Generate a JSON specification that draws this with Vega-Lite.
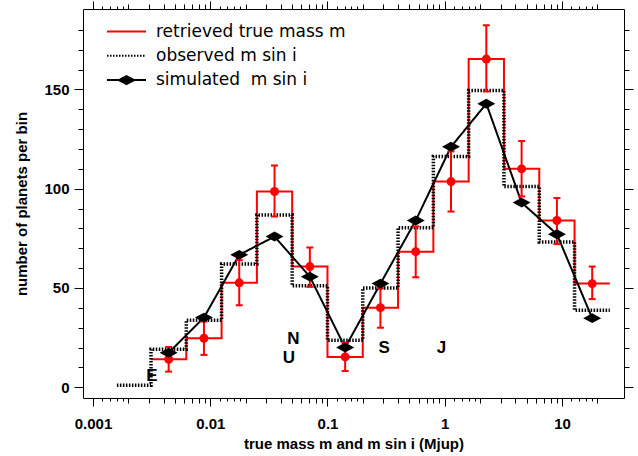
{
  "$schema": "https://vega.github.io/schema/vega-lite/v6.json",
  "width": 541,
  "height": 389,
  "autosize": {"type": "none"},
  "padding": {"left": 83, "top": 9, "right": 14, "bottom": 58},
  "background": "white",
  "config": {
    "view": {"stroke": "black", "strokeWidth": 1},
    "axis": {
      "domain": false, "grid": false, "tickColor": "black", "tickWidth": 1,
      "labelFont": "Liberation Sans", "labelFontWeight": "bold", "labelFontSize": 15, "labelColor": "black",
      "titleFont": "Liberation Sans", "titleFontWeight": "bold", "titleFontSize": 15, "titleColor": "black",
      "labelFlush": false, "labelOverlap": false
    },
    "legend": {
      "orient": "none", "legendX": 35, "legendY": 14, "padding": 0,
      "labelFont": "DejaVu Sans", "labelFontSize": 17, "labelColor": "black", "labelLimit": 400,
      "symbolSize": 100, "symbolStrokeWidth": 2, "symbolOpacity": 1,
      "rowPadding": 6.3, "labelOffset": 21, "symbolOffset": 0
    }
  },
  "datasets": {
    "red_steps": [
      {"series": "retrieved true mass m", "edge": 0.003125, "count": 14.1},
      {"series": "retrieved true mass m", "edge": 0.00625, "count": 24.7},
      {"series": "retrieved true mass m", "edge": 0.0125, "count": 52.6},
      {"series": "retrieved true mass m", "edge": 0.025, "count": 98.6},
      {"series": "retrieved true mass m", "edge": 0.05, "count": 60.8},
      {"series": "retrieved true mass m", "edge": 0.1, "count": 15.3},
      {"series": "retrieved true mass m", "edge": 0.2, "count": 40.1},
      {"series": "retrieved true mass m", "edge": 0.4, "count": 68.3},
      {"series": "retrieved true mass m", "edge": 0.8, "count": 103.6},
      {"series": "retrieved true mass m", "edge": 1.6, "count": 165.3},
      {"series": "retrieved true mass m", "edge": 3.2, "count": 110.0},
      {"series": "retrieved true mass m", "edge": 6.4, "count": 84.0},
      {"series": "retrieved true mass m", "edge": 12.8, "count": 52.2},
      {"series": "retrieved true mass m", "edge": 25.6, "count": 52.2}
    ],
    "obs_steps": [
      {"series": "observed m sin i", "edge": 0.0016, "count": 1},
      {"series": "observed m sin i", "edge": 0.003125, "count": 19.2},
      {"series": "observed m sin i", "edge": 0.00625, "count": 33.8},
      {"series": "observed m sin i", "edge": 0.0125, "count": 62.1},
      {"series": "observed m sin i", "edge": 0.025, "count": 86.8},
      {"series": "observed m sin i", "edge": 0.05, "count": 51.1},
      {"series": "observed m sin i", "edge": 0.1, "count": 23.7},
      {"series": "observed m sin i", "edge": 0.2, "count": 50.0},
      {"series": "observed m sin i", "edge": 0.4, "count": 80.4},
      {"series": "observed m sin i", "edge": 0.8, "count": 116.2},
      {"series": "observed m sin i", "edge": 1.6, "count": 149.5},
      {"series": "observed m sin i", "edge": 3.2, "count": 101.1},
      {"series": "observed m sin i", "edge": 6.4, "count": 73.2},
      {"series": "observed m sin i", "edge": 12.8, "count": 38.8},
      {"series": "observed m sin i", "edge": 25.6, "count": 38.8}
    ],
    "sim": [
      {"series": "simulated\u00a0 m sin i", "center": 0.0044194, "count": 17.4},
      {"series": "simulated\u00a0 m sin i", "center": 0.0088388, "count": 35.1},
      {"series": "simulated\u00a0 m sin i", "center": 0.0176777, "count": 66.7},
      {"series": "simulated\u00a0 m sin i", "center": 0.0353553, "count": 75.9},
      {"series": "simulated\u00a0 m sin i", "center": 0.0707107, "count": 55.7},
      {"series": "simulated\u00a0 m sin i", "center": 0.141421, "count": 20.0},
      {"series": "simulated\u00a0 m sin i", "center": 0.282843, "count": 52.2},
      {"series": "simulated\u00a0 m sin i", "center": 0.565685, "count": 84.0},
      {"series": "simulated\u00a0 m sin i", "center": 1.131371, "count": 121.1},
      {"series": "simulated\u00a0 m sin i", "center": 2.262742, "count": 142.8},
      {"series": "simulated\u00a0 m sin i", "center": 4.525483, "count": 93.0},
      {"series": "simulated\u00a0 m sin i", "center": 9.050967, "count": 77.1},
      {"series": "simulated\u00a0 m sin i", "center": 18.101934, "count": 34.8}
    ],
    "bins": [
      {"center": 0.0044194, "count": 14.1, "lo": 7.9, "hi": 20.3},
      {"center": 0.0088388, "count": 24.7, "lo": 16.3, "hi": 33.1},
      {"center": 0.0176777, "count": 52.6, "lo": 41.3, "hi": 64.0},
      {"center": 0.0353553, "count": 98.6, "lo": 86.0, "hi": 111.7},
      {"center": 0.0707107, "count": 60.8, "lo": 50.6, "hi": 70.4},
      {"center": 0.141421, "count": 15.3, "lo": 8.2, "hi": 22.5},
      {"center": 0.282843, "count": 40.1, "lo": 30.0, "hi": 49.9},
      {"center": 0.565685, "count": 68.3, "lo": 55.4, "hi": 81.0},
      {"center": 1.131371, "count": 103.6, "lo": 88.5, "hi": 118.8},
      {"center": 2.262742, "count": 165.3, "lo": 149.0, "hi": 182.3},
      {"center": 4.525483, "count": 110.0, "lo": 96.1, "hi": 124.0},
      {"center": 9.050967, "count": 84.0, "lo": 72.1, "hi": 95.3},
      {"center": 18.101934, "count": 52.2, "lo": 44.4, "hi": 60.8}
    ],
    "planets": [
      {"name": "E", "mass": 0.00318, "pos": 5.8},
      {"name": "N", "mass": 0.0513, "pos": 24.2},
      {"name": "U", "mass": 0.0469, "pos": 14.5},
      {"name": "S", "mass": 0.304, "pos": 19.9},
      {"name": "J", "mass": 0.937, "pos": 19.9}
    ]
  },
  "resolve": {"axis": {"x": "independent", "y": "independent"}},
  "layer": [
    {
      "data": {"name": "red_steps"},
      "mark": {"type": "line", "interpolate": "step-after", "strokeWidth": 2, "strokeCap": "butt"},
      "encoding": {
        "x": {"field": "edge", "type": "quantitative",
          "scale": {"type": "log", "domain": [0.000822, 33.8], "nice": false},
          "axis": {"orient": "bottom", "values": [0.001, 0.01, 0.1, 1, 10], "format": "~g", "tickSize": 8, "labelPadding": 10, "title": "true mass m and m sin i (Mjup)", "titlePadding": 5}},
        "y": {"field": "count", "type": "quantitative",
          "scale": {"domain": [-5.4, 190.5], "nice": false, "zero": false},
          "axis": {"orient": "left", "values": [0, 50, 100, 150], "tickSize": 9, "labelPadding": 5, "title": "number of planets per bin", "titlePadding": 14}},
        "color": {"field": "series", "type": "nominal",
          "scale": {"domain": ["retrieved true mass m", "observed m sin i", "simulated\u00a0 m sin i"], "range": ["#ff0000", "#000000", "#000000"]},
          "legend": {"title": null}},
        "strokeDash": {"field": "series", "type": "nominal",
          "scale": {"domain": ["retrieved true mass m", "observed m sin i", "simulated\u00a0 m sin i"], "range": [[1, 0], [1.5, 1.5], [1, 0]]},
          "legend": {"title": null}}
      }
    },
    {
      "data": {"name": "obs_steps"},
      "mark": {"type": "line", "interpolate": "step-after", "strokeWidth": 3.5, "strokeCap": "butt"},
      "encoding": {
        "x": {"field": "edge", "type": "quantitative",
          "axis": {"orient": "bottom", "values": [0.002, 0.003, 0.004, 0.005, 0.006, 0.007, 0.008, 0.009, 0.02, 0.03, 0.04, 0.05, 0.06, 0.07, 0.08, 0.09, 0.2, 0.3, 0.4, 0.5, 0.6, 0.7, 0.8, 0.9, 2, 3, 4, 5, 6, 7, 8, 9, 20], "tickSize": 5, "labels": false, "title": null}},
        "y": {"field": "count", "type": "quantitative",
          "axis": {"orient": "left", "values": [10, 20, 30, 40, 60, 70, 80, 90, 110, 120, 130, 140, 160, 170, 180], "tickSize": 5, "labels": false, "title": null}},
        "color": {"field": "series", "type": "nominal"},
        "strokeDash": {"field": "series", "type": "nominal"}
      }
    },
    {
      "data": {"name": "sim"},
      "mark": {"type": "line", "strokeWidth": 2},
      "encoding": {
        "x": {"field": "center", "type": "quantitative",
          "axis": {"orient": "bottom", "values": [0.0012, 0.0014, 0.0016, 0.0018, 0.012, 0.014, 0.016, 0.018, 0.12, 0.14, 0.16, 0.18, 1.2, 1.4, 1.6, 1.8, 12, 14, 16, 18], "tickSize": 3, "labels": false, "title": null}},
        "y": {"field": "count", "type": "quantitative",
          "axis": {"orient": "right", "values": [0, 50, 100, 150], "tickSize": 9, "labels": false, "title": null}},
        "color": {"field": "series", "type": "nominal"},
        "strokeDash": {"field": "series", "type": "nominal"}
      }
    },
    {
      "data": {"name": "sim"},
      "mark": {"type": "point", "filled": false, "opacity": 0, "size": 100, "strokeWidth": 2},
      "encoding": {
        "x": {"field": "center", "type": "quantitative", "axis": null},
        "y": {"field": "count", "type": "quantitative", "axis": null},
        "color": {"field": "series", "type": "nominal"},
        "strokeDash": {"field": "series", "type": "nominal"},
        "shape": {"field": "series", "type": "nominal",
          "scale": {"domain": ["retrieved true mass m", "observed m sin i", "simulated\u00a0 m sin i"], "range": ["M-3.9,0L3.9,0", "M-3.9,0L3.9,0", "M-3.9,0L3.9,0M-1.5,0L0,-0.8L1.5,0L0,0.8ZM-0.9,0L0,-0.48L0.9,0L0,0.48ZM-0.3,0L0,-0.16L0.3,0L0,0.16Z"]},
          "legend": {"title": null}}
      }
    },
    {
      "data": {"name": "bins"},
      "mark": {"type": "rule", "color": "#ff0000", "strokeWidth": 2},
      "encoding": {
        "x": {"field": "center", "type": "quantitative",
          "axis": {"orient": "top", "values": [0.001, 0.01, 0.1, 1, 10], "tickSize": 8, "labels": false, "title": null}},
        "y": {"field": "lo", "type": "quantitative",
          "axis": {"orient": "right", "values": [10, 20, 30, 40, 60, 70, 80, 90, 110, 120, 130, 140, 160, 170, 180], "tickSize": 5, "labels": false, "title": null}},
        "y2": {"field": "hi"}
      }
    },
    {
      "data": {"name": "bins"},
      "mark": {"type": "tick", "orient": "horizontal", "color": "#ff0000", "size": 7, "thickness": 2, "opacity": 1},
      "encoding": {
        "x": {"field": "center", "type": "quantitative",
          "axis": {"orient": "top", "values": [0.002, 0.003, 0.004, 0.005, 0.006, 0.007, 0.008, 0.009, 0.02, 0.03, 0.04, 0.05, 0.06, 0.07, 0.08, 0.09, 0.2, 0.3, 0.4, 0.5, 0.6, 0.7, 0.8, 0.9, 2, 3, 4, 5, 6, 7, 8, 9, 20], "tickSize": 5, "labels": false, "title": null}},
        "y": {"field": "lo", "type": "quantitative", "axis": null}
      }
    },
    {
      "data": {"name": "bins"},
      "mark": {"type": "tick", "orient": "horizontal", "color": "#ff0000", "size": 7, "thickness": 2, "opacity": 1},
      "encoding": {
        "x": {"field": "center", "type": "quantitative",
          "axis": {"orient": "top", "values": [0.0012, 0.0014, 0.0016, 0.0018, 0.012, 0.014, 0.016, 0.018, 0.12, 0.14, 0.16, 0.18, 1.2, 1.4, 1.6, 1.8, 12, 14, 16, 18], "tickSize": 3, "labels": false, "title": null}},
        "y": {"field": "hi", "type": "quantitative", "axis": null}
      }
    },
    {
      "data": {"name": "bins"},
      "mark": {"type": "point", "shape": "circle", "filled": true, "color": "#ff0000", "size": 80, "opacity": 1},
      "encoding": {
        "x": {"field": "center", "type": "quantitative", "axis": null},
        "y": {"field": "count", "type": "quantitative", "axis": null}
      }
    },
    {
      "data": {"name": "sim"},
      "mark": {"type": "point", "shape": "M-1,0L0,-0.55L1,0L0,0.55Z", "filled": true, "color": "#000000", "size": 324, "opacity": 1},
      "encoding": {
        "x": {"field": "center", "type": "quantitative", "axis": null},
        "y": {"field": "count", "type": "quantitative", "axis": null}
      }
    },
    {
      "data": {"name": "planets"},
      "mark": {"type": "text", "font": "Liberation Sans", "fontWeight": "bold", "fontSize": 17, "color": "black", "align": "center", "baseline": "middle"},
      "encoding": {
        "x": {"field": "mass", "type": "quantitative", "axis": null},
        "y": {"field": "pos", "type": "quantitative", "axis": null},
        "text": {"field": "name"}
      }
    }
  ]
}
